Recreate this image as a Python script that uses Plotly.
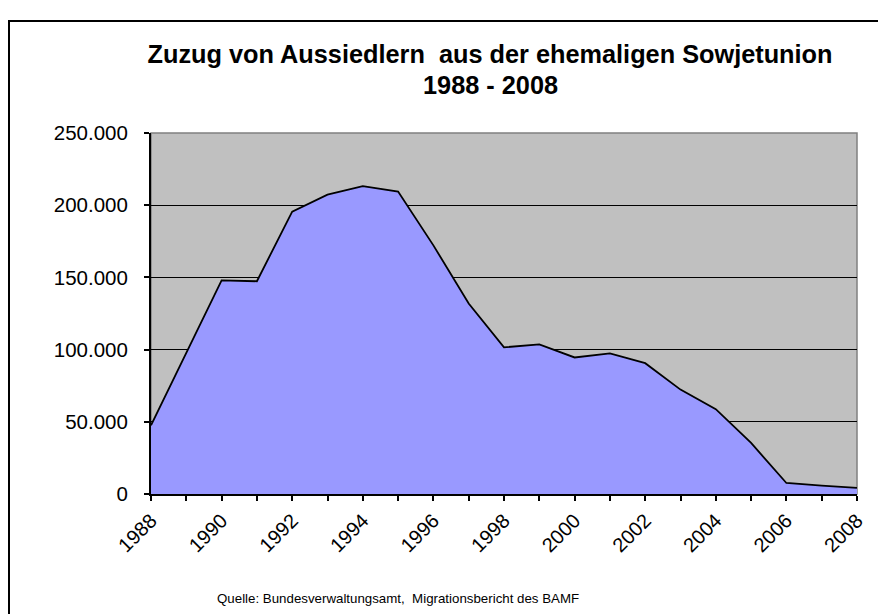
import plotly.graph_objects as go

years = list(range(1988, 2009))
zuzug = [47572, 98134, 147950, 147320, 195576, 207347, 213214, 209409, 172181,
         131895, 101550, 103599, 94558, 97434, 90587, 72289, 58728, 35396,
         7626, 5792, 4301]
y_ticks = [0, 50000, 100000, 150000, 200000, 250000]
x_ticks = list(range(1988, 2009, 2))

title_line1 = "<b>Zuzug von Aussiedlern  aus der ehemaligen Sowjetunion</b>"
title_line2 = "<b>1988 - 2008</b>"
source_text = "Quelle: Bundesverwaltungsamt,  Migrationsbericht des BAMF"

# page body has an 8px margin, so the figure is drawn 8px smaller and all
# target pixel positions are shifted by -8
OFF = 8
W, H = 886 - OFF, 614 - OFF
L, R, T, B = 151 - OFF, 29, 133 - OFF, 120
pw, ph = W - L - R, H - T - B

def px(x):
    return (x - OFF - L) / pw

def py(y):
    return (H - B - (y - OFF)) / ph

FONT = "Liberation Sans, Arial, sans-serif"
TSIZE = 25.3

fig = go.Figure()
fig.add_trace(go.Scatter(
    x=years, y=zuzug, mode="lines", fill="tozeroy",
    fillcolor="#9999FF", line=dict(color="black", width=1.8),
    hoverinfo="x+y", showlegend=False,
))

fig.update_layout(
    width=W, height=H,
    margin=dict(l=L, r=R, t=T, b=B),
    paper_bgcolor="white", plot_bgcolor="#C0C0C0",
    separators=",.",
    font=dict(family=FONT, color="black"),
    title=dict(text=title_line1, x=(490 - OFF) / W, xanchor="center",
               y=1 - (54 - OFF) / H, yanchor="middle", yref="container",
               font=dict(size=TSIZE, family=FONT, color="black")),
    xaxis=dict(range=[1988, 2008], tickvals=x_ticks, tickangle=-45,
               showline=True, linecolor="black", linewidth=2,
               ticks="outside", ticklen=5, tickcolor="black", tickwidth=1.5,
               minor=dict(dtick=1, ticks="outside", ticklen=5, tickcolor="black", tickwidth=1.5),
               showgrid=False, zeroline=False,
               tickfont=dict(size=20)),
    yaxis=dict(range=[0, 250000], tickvals=y_ticks, tickformat=",d",
               showline=True, linecolor="black", linewidth=2,
               ticks="outside", ticklen=5, tickcolor="black", tickwidth=1.5,
               showgrid=True, gridcolor="black", gridwidth=1.3,
               zeroline=False, ticklabelstandoff=12,
               tickfont=dict(size=20.5)),
    shapes=[
        dict(type="rect", xref="paper", yref="paper", x0=0, x1=1, y0=0, y1=1,
             line=dict(color="#808080", width=1.5), layer="below"),
        dict(type="rect", xref="paper", yref="paper",
             x0=px(9), x1=px(884), y0=py(640), y1=py(21),
             line=dict(color="black", width=2), fillcolor="rgba(0,0,0,0)"),
    ],
    annotations=[
        dict(text=title_line2, xref="paper", yref="paper",
             x=px(490), y=py(85), xanchor="center", yanchor="middle",
             showarrow=False, font=dict(size=TSIZE, family=FONT, color="black")),
        dict(text=source_text, xref="paper", yref="paper",
             x=px(215), y=py(598), xanchor="left", yanchor="middle",
             showarrow=False, font=dict(size=13.3, color="black")),
    ],
)

fig.write_html("out.html")
